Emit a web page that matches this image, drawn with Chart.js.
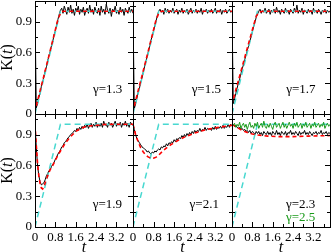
<!DOCTYPE html>
<html>
<head>
<meta charset="utf-8">
<script src="https://cdn.jsdelivr.net/npm/chart.js@4.4.1/dist/chart.umd.min.js"></script>
<style>
  html, body { margin: 0; padding: 0; background: #fff; }
  #wrap { position: relative; width: 332px; height: 252px; overflow: hidden; }
  #wrap canvas { position: absolute; left: 0; top: 0; }
</style>
</head>
<body>
<div id="wrap"></div>
<script>
// sampling step of the simulated K(t) curves, t runs 0 .. 3.85
const dt = 0.05;
const tMax = 3.85;
const kMax = 1.1;

const xMajor = [0, 0.8, 1.6, 2.4, 3.2];
const yMajor = [0, 0.3, 0.6, 0.9];
const gammas = ['1.3', '1.5', '1.7', '1.9', '2.1', '2.3', '2.5'];

// ballistic reference (cyan dashed)
const idealT = [0, 1, 3.85];
const idealK = [0, 1, 1];

// simulation data (black), one value every dt
const k13 = [
  1.0, 0.06, 0.1, 0.16, 0.2, 0.27, 0.31, 0.36, 0.42, 0.46,
  0.52, 0.57, 0.61, 0.67, 0.71, 0.77, 0.81, 0.87, 0.92, 0.97,
  1.01, 1.03, 0.98, 1.05, 1.01, 0.97, 1.04, 0.99, 1.06, 0.98,
  1.02, 0.96, 1.03, 1.0, 1.05, 0.97, 1.02, 0.99, 1.04, 0.96,
  1.01, 1.03, 0.98, 1.06, 0.99, 1.02, 0.97, 1.04, 1.0, 0.98,
  1.03, 0.96, 1.05, 0.99, 1.02, 0.97, 1.07, 1.01, 0.98, 1.03,
  0.95, 1.02, 1.0, 1.05, 0.98, 1.01, 0.97, 1.04, 0.99, 1.02,
  0.96, 1.03, 1.0, 0.98, 1.04, 0.99, 1.02, 0.98
];
const k15 = [
  1.0, 0.05, 0.1, 0.15, 0.21, 0.25, 0.31, 0.35, 0.41, 0.46,
  0.51, 0.56, 0.61, 0.66, 0.72, 0.76, 0.81, 0.86, 0.91, 0.96,
  1.0, 1.02, 0.99, 1.01, 0.97, 1.03, 0.99, 1.02, 0.98, 1.01,
  0.99, 1.03, 0.98, 1.0, 1.02, 0.97, 1.01, 0.99, 1.03, 0.98,
  1.01, 0.99, 1.02, 0.97, 1.0, 1.03, 0.98, 1.01, 0.99, 1.02,
  0.98, 1.01, 0.99, 1.03, 0.97, 1.01, 1.0, 1.02, 0.98, 1.01,
  0.99, 1.02, 0.98, 1.0, 1.03, 0.98, 1.01, 0.99, 1.02, 0.97,
  1.01, 0.99, 1.02, 0.98, 1.0, 1.02, 0.99, 1.0
];
const k17 = [
  1.0, 0.1, 0.15, 0.2, 0.25, 0.3, 0.34, 0.39, 0.44, 0.48,
  0.53, 0.57, 0.62, 0.66, 0.71, 0.75, 0.8, 0.85, 0.89, 0.94,
  0.97, 1.0, 1.02, 0.98, 1.01, 0.99, 1.03, 0.98, 1.0, 1.02,
  0.97, 1.01, 0.99, 1.02, 0.98, 1.04, 0.99, 1.01, 0.97, 1.02,
  1.0, 0.98, 1.03, 0.99, 1.01, 0.97, 1.02, 1.0, 0.98, 1.03,
  0.99, 1.06, 0.98, 1.01, 0.99, 1.03, 0.97, 1.01, 1.0, 0.98,
  1.02, 0.99, 1.01, 0.97, 1.03, 0.99, 1.01, 0.98, 1.02, 1.0,
  0.97, 1.01, 0.99, 1.02, 0.98, 1.01, 0.99, 1.0
];
const k19 = [
  1.0, 0.78, 0.6, 0.5, 0.44, 0.41, 0.42, 0.43, 0.46, 0.5,
  0.52, 0.55, 0.56, 0.59, 0.61, 0.63, 0.66, 0.68, 0.71, 0.73,
  0.75, 0.78, 0.79, 0.82, 0.83, 0.85, 0.87, 0.88, 0.9, 0.91,
  0.92, 0.94, 0.93, 0.96, 0.94, 0.97, 0.95, 0.98, 0.96, 0.99,
  0.97, 1.0, 0.96, 0.99, 1.01, 0.97, 1.0, 0.98, 1.02, 0.97,
  1.0, 0.98, 1.01, 0.97, 1.03, 0.99, 1.0, 0.97, 1.02, 0.99,
  1.01, 0.97, 1.0, 1.03, 0.98, 1.01, 0.99, 1.02, 0.97, 1.01,
  0.99, 1.03, 0.98, 1.01, 0.97, 1.02, 1.0, 0.99
];
const k21 = [
  1.0, 0.95, 0.9, 0.86, 0.84, 0.82, 0.8, 0.78, 0.77, 0.76,
  0.75, 0.73, 0.74, 0.72, 0.71, 0.73, 0.72, 0.74, 0.73, 0.75,
  0.76, 0.75, 0.78, 0.77, 0.79, 0.78, 0.81, 0.79, 0.82, 0.81,
  0.83, 0.82, 0.85, 0.83, 0.86, 0.85, 0.87, 0.86, 0.89, 0.87,
  0.9, 0.88, 0.91, 0.89, 0.92, 0.9, 0.93, 0.91, 0.94, 0.92,
  0.94, 0.93, 0.96, 0.93, 0.95, 0.94, 0.97, 0.94, 0.96, 0.95,
  0.96, 0.94, 0.97, 0.95, 0.98, 0.95, 0.97, 0.96, 0.98, 0.96,
  0.99, 0.96, 0.98, 0.97, 1.0, 0.97, 1.0, 0.98
];
const k23 = [
  1.0, 0.99, 0.98, 0.99, 0.97, 0.96, 0.97, 0.95, 0.96, 0.94,
  0.95, 0.93, 0.94, 0.92, 0.94, 0.91, 0.93, 0.92, 0.9, 0.93,
  0.91, 0.93, 0.9, 0.92, 0.89, 0.93, 0.91, 0.9, 0.93, 0.9,
  0.92, 0.89, 0.93, 0.91, 0.9, 0.94, 0.9, 0.92, 0.89, 0.93,
  0.91, 0.9, 0.93, 0.89, 0.92, 0.91, 0.94, 0.9, 0.92, 0.9,
  0.93, 0.91, 0.89, 0.93, 0.9, 0.92, 0.91, 0.94, 0.9, 0.92,
  0.9, 0.93, 0.91, 0.89, 0.92, 0.91, 0.93, 0.9, 0.92, 0.91,
  0.94, 0.9, 0.92, 0.91, 0.93, 0.9, 0.92, 0.91
];
const k25 = [
  1.0, 0.99, 1.01, 0.97, 1.0, 0.98, 1.02, 0.96, 0.99, 1.01,
  0.97, 1.0, 0.95, 0.99, 1.02, 0.97, 0.99, 0.96, 1.01, 0.98,
  1.02, 0.96, 0.99, 1.01, 0.97, 1.03, 0.98, 0.96, 1.0, 0.97,
  1.01, 0.98, 0.95, 1.0, 1.02, 0.97, 0.99, 1.01, 0.96, 0.99,
  1.02, 0.97, 1.0, 0.96, 0.99, 1.02, 0.98, 1.0, 0.96, 1.01,
  0.98, 1.02, 0.97, 0.99, 1.01, 0.96, 1.0, 0.98, 1.02, 0.97,
  0.99, 1.01, 0.96, 1.0, 0.98, 1.02, 0.97, 0.99, 1.01, 0.97,
  1.0, 0.98, 1.02, 0.96, 0.99, 1.01, 0.98, 1.0
];

// fitted curves (red dashed)
const fit13T = [0, 0, 0.5, 0.9, 1.0, 1.1, 3.85];
const fit13K = [1, 0.03, 0.52, 0.92, 0.98, 1.0, 1.0];
const fit15T = [0, 0, 0.5, 0.9, 1.0, 1.1, 3.85];
const fit15K = [1, 0.03, 0.52, 0.92, 0.98, 1.0, 1.0];
const fit17T = [0, 0, 0.2, 0.4, 0.6, 0.8, 0.95, 1.05, 1.2, 3.85];
const fit17K = [1, 0.1, 0.28, 0.46, 0.64, 0.82, 0.95, 0.99, 1.0, 1.0];
const fit19T = [0, 0.05, 0.1, 0.15, 0.2, 0.25, 0.3, 0.35, 0.4, 0.5, 0.6, 0.7, 0.8, 0.9, 1.0, 1.2, 1.4, 1.6, 1.8, 2.0, 2.4, 2.8, 3.2, 3.85];
const fit19K = [1.0, 0.8, 0.62, 0.5, 0.42, 0.38, 0.37, 0.39, 0.43, 0.5, 0.56, 0.6, 0.65, 0.7, 0.74, 0.82, 0.88, 0.93, 0.96, 0.98, 0.99, 1.0, 1.0, 1.0];
const fit21T = [0, 0.1, 0.2, 0.3, 0.4, 0.5, 0.6, 0.7, 0.8, 0.9, 1.0, 1.2, 1.4, 1.6, 1.8, 2.0, 2.4, 2.8, 3.2, 3.6, 3.85];
const fit21K = [1.0, 0.9, 0.83, 0.77, 0.73, 0.7, 0.68, 0.67, 0.67, 0.68, 0.7, 0.75, 0.79, 0.82, 0.85, 0.875, 0.915, 0.945, 0.965, 0.98, 0.99];
const fit23T = [0, 0.2, 0.4, 0.6, 0.8, 1.0, 1.4, 1.8, 2.4, 3.0, 3.85];
const fit23K = [1.0, 0.97, 0.94, 0.92, 0.905, 0.895, 0.885, 0.88, 0.88, 0.885, 0.89];

const serif = '"Liberation Serif", "Times New Roman", serif';
const colEdges = [[35, 133], [133, 232], [232, 330]];
const rowEdges = [[1, 114], [114, 227]];

const panels = [
  { k: k13, fitT: fit13T, fitK: fit13K, col: 0, row: 0, labels: [{ text: 'γ=' + gammas[0], t: 2.28, y: 0.24, color: '#000' }] },
  { k: k15, fitT: fit15T, fitK: fit15K, col: 1, row: 0, labels: [{ text: 'γ=' + gammas[1], t: 2.28, y: 0.24, color: '#000' }] },
  { k: k17, fitT: fit17T, fitK: fit17K, col: 2, row: 0, labels: [{ text: 'γ=' + gammas[2], t: 2.13, y: 0.24, color: '#000' }] },
  { k: k19, fitT: fit19T, fitK: fit19K, col: 0, row: 1, labels: [{ text: 'γ=' + gammas[3], t: 2.27, y: 0.22, color: '#000' }] },
  { k: k21, fitT: fit21T, fitK: fit21K, col: 1, row: 1, labels: [{ text: 'γ=' + gammas[4], t: 2.2, y: 0.22, color: '#000' }] },
  { k: k23, fitT: fit23T, fitK: fit23K, col: 2, row: 1, extra: k25,
    labels: [{ text: 'γ=' + gammas[5], t: 2.12, y: 0.22, color: '#000' },
             { text: 'γ=' + gammas[6], t: 2.12, y: 0.09, color: '#1a9a1a' }] }
];

// axis boxes get a fixed size so the plot areas line up between canvases
function fixedFit(size) {
  return scale => {
    if (scale.isHorizontal()) scale.height = size; else scale.width = size;
    scale.paddingLeft = scale.paddingRight = scale.paddingTop = scale.paddingBottom = 0;
  };
}

function matchTick(list, v) {
  const m = list.find(m => Math.abs(m - v) < 1e-6);
  return m === undefined ? null : String(m);
}

// frame, inward ticks, axis titles and gamma labels
const panelDeco = {
  id: 'panelDeco',
  afterDatasetsDraw(chart, args, opts) {
    const { ctx, chartArea: a, scales: { x, y } } = chart;
    ctx.save();
    ctx.strokeStyle = '#000';
    ctx.lineWidth = 1;
    ctx.strokeRect(a.left + 0.5, a.top + 0.5, a.right - a.left, a.bottom - a.top);

    ctx.beginPath();
    for (let i = 0; i * 0.4 <= tMax + 1e-9; i++) {
      const v = i * 0.4;
      const len = i % 2 === 0 ? 5 : 3;
      const px = Math.round(x.getPixelForValue(v)) + 0.5;
      ctx.moveTo(px, a.bottom); ctx.lineTo(px, a.bottom - len);
      ctx.moveTo(px, a.top); ctx.lineTo(px, a.top + len);
    }
    for (let i = 0; i * 0.15 <= kMax + 1e-9; i++) {
      const v = i * 0.15;
      const len = i % 2 === 0 ? 5 : 3;
      const py = Math.round(y.getPixelForValue(v)) + 0.5;
      ctx.moveTo(a.left, py); ctx.lineTo(a.left + len, py);
      ctx.moveTo(a.right, py); ctx.lineTo(a.right - len, py);
    }
    ctx.stroke();

    ctx.fillStyle = '#000';
    if (opts.yTitle) {
      ctx.save();
      ctx.translate(8, (a.top + a.bottom) / 2);
      ctx.rotate(-Math.PI / 2);
      ctx.textBaseline = 'middle';
      ctx.textAlign = 'left';
      const up = '16px ' + serif, it = 'italic 16px ' + serif;
      ctx.font = up; const w1 = ctx.measureText('K(').width; const w3 = ctx.measureText(')').width;
      ctx.font = it; const w2 = ctx.measureText('t').width;
      let sx = -(w1 + w2 + w3) / 2;
      ctx.font = up; ctx.fillText('K(', sx, 0); sx += w1;
      ctx.font = it; ctx.fillText('t', sx, 0); sx += w2;
      ctx.font = up; ctx.fillText(')', sx, 0);
      ctx.restore();
    }
    if (opts.xTitle) {
      ctx.font = 'italic 16px ' + serif;
      ctx.textAlign = 'center';
      ctx.textBaseline = 'middle';
      ctx.fillText('t', (a.left + a.right) / 2, 248);
    }

    ctx.font = '13px ' + serif;
    ctx.textAlign = 'left';
    ctx.textBaseline = 'middle';
    opts.labels.forEach(l => {
      ctx.fillStyle = l.color;
      ctx.fillText(l.text, x.getPixelForValue(l.t), y.getPixelForValue(l.y));
    });
    ctx.restore();
  }
};

const wrap = document.getElementById('wrap');

panels.forEach(p => {
  const canvas = document.createElement('canvas');
  canvas.width = 332;
  canvas.height = 252;
  wrap.appendChild(canvas);

  const [l, r] = colEdges[p.col];
  const [t, b] = rowEdges[p.row];
  const yAxisW = p.col === 0 ? l : 0;
  const xAxisH = p.row === 1 ? 252 - b : 0;

  const datasets = [];
  if (p.extra) {
    datasets.push({
      data: p.extra.map((v, i) => ({ x: i * dt, y: v })),
      borderColor: '#1a9a1a', borderWidth: 1
    });
  }
  datasets.push({
    data: p.fitT.map((tv, i) => ({ x: tv, y: p.fitK[i] })),
    borderColor: '#ff0000', borderWidth: 1.6, borderDash: [4, 3]
  });
  datasets.push({
    data: idealT.map((tv, i) => ({ x: tv, y: idealK[i] })),
    borderColor: '#48d8d0', borderWidth: 1.5, borderDash: [6, 4]
  });
  datasets.push({
    data: p.k.map((v, i) => ({ x: i * dt, y: v })),
    borderColor: '#000000', borderWidth: 1
  });

  new Chart(canvas, {
    type: 'line',
    data: { datasets },
    options: {
      responsive: false,
      animation: false,
      events: [],
      layout: { padding: { left: l - yAxisW, right: 332 - r, top: t, bottom: 252 - b - xAxisH } },
      elements: { point: { radius: 0 }, line: { tension: 0 } },
      scales: {
        x: {
          type: 'linear', min: 0, max: tMax,
          afterFit: fixedFit(xAxisH),
          grid: { display: false, drawTicks: false },
          border: { display: false },
          ticks: {
            display: p.row === 1,
            stepSize: 0.4, autoSkip: false, maxRotation: 0, padding: 3,
            color: '#000',
            font: { family: serif, size: 13 },
            callback: v => matchTick(xMajor, v)
          }
        },
        y: {
          type: 'linear', min: 0, max: kMax,
          afterFit: fixedFit(yAxisW),
          grid: { display: false, drawTicks: false },
          border: { display: false },
          ticks: {
            display: p.col === 0,
            stepSize: 0.15, autoSkip: false, padding: 3,
            color: '#000',
            font: { family: serif, size: 13 },
            callback: v => matchTick(yMajor, v)
          }
        }
      },
      plugins: {
        legend: { display: false },
        tooltip: { enabled: false },
        panelDeco: { yTitle: p.col === 0, xTitle: p.row === 1, labels: p.labels }
      }
    },
    plugins: [panelDeco]
  });
});
</script>
</body>
</html>
